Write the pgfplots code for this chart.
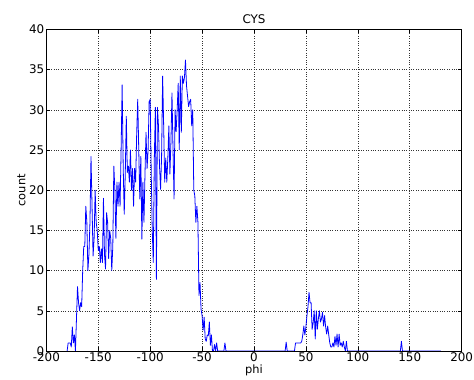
\documentclass[border=0pt]{standalone}
\usepackage{pgfplots}
\pgfplotsset{compat=1.18}
\usepackage{fontspec}
\setmainfont{DejaVu Sans}
\begin{document}
\begin{tikzpicture}[font=\fontsize{12}{14}\selectfont]
\begin{axis}[
  scale only axis,
  width=416.5bp, height=322.5bp,
  xmin=-200, xmax=200, ymin=0, ymax=40,
  xtick={-200,-150,...,200}, ytick={0,5,...,40},
  tick align=inside, ticks=major,
  major tick length=4bp,
  tick style={black, line width=0.5pt},
  grid=major,
  grid style={black!80, dotted, line width=0.5pt},
  axis line style={black, line width=0.8pt},
  /pgf/number format/assume math mode=true,
  tick label style={font=\fontsize{12}{14}\selectfont},
  xticklabel style={yshift=-1bp, inner sep=1bp},
  yticklabel style={inner sep=1bp, xshift=-1bp},
  label style={font=\fontsize{11.5}{13}\selectfont},
  title={CYS}, title style={font=\fontsize{12}{14}\selectfont, yshift=-4bp},
  xlabel={phi}, ylabel={count},
  xlabel style={yshift=2bp}, ylabel style={yshift=-1bp},
  every axis plot/.append style={line join=round},
]
\addplot[blue, line width=0.8pt, mark=none] coordinates {
(-180,0) (-179,1) (-178,1) (-177,1) (-176,0.5) (-175,3) (-174,1) (-173,2) (-172,0)
(-171,4) (-170,8) (-169,6) (-168,5) (-167,6) (-166,5.5) (-165,10) (-164,13) (-163,13)
(-162,18) (-161,16) (-160,10) (-159,12) (-158,16) (-157,24.2) (-156,18) (-155,11.8)
(-154,14) (-153,20) (-152,16) (-151,15) (-150,12.5) (-149,13) (-148,11) (-147,12.7)
(-146,11) (-145,19) (-144,12) (-143,10.2) (-142,17.2) (-141,16) (-140,11.5) (-139,15)
(-138,14) (-137,10) (-136,13) (-135,23) (-134,20) (-133,14) (-132,21) (-131,18)
(-130,21) (-129,18) (-128,25) (-127,33.1) (-126,23) (-125,17) (-124,22) (-123,29.2)
(-122,22.2) (-121,23) (-120,21) (-119,25) (-118,20) (-117,22.7) (-116,18) (-115,22.7)
(-114,21) (-113,27) (-112,31.3) (-111,25) (-110,18.9) (-109,24.2) (-108,13.9) (-107,21)
(-106,16) (-105,22) (-104,27.2) (-103,22.7) (-102,25) (-101,31) (-100,31.3) (-99,22.2)
(-98,15) (-97,11) (-96,24) (-95,30.3) (-94,8.9) (-93,30.3) (-92,28) (-91,23) (-90,20.1)
(-89,24.2) (-88,34.2) (-87,28) (-86,21) (-85,24) (-84,21) (-83,24) (-82,28) (-81,22)
(-80,26) (-79,32.1) (-78,25) (-77,18.9) (-76,30) (-75,27.3) (-74,30) (-73,33.3) (-72,25)
(-71,34.2) (-70,27.2) (-69,34.2) (-68,33.3) (-67,34) (-66,36.2) (-65,33) (-64,31.7)
(-63,30.4) (-62,31) (-61,31.3) (-60,28) (-59,30) (-58,20) (-57,19.3) (-56,16) (-55,18)
(-54,16) (-53,6.9) (-52,8.5) (-51,5.2) (-50,4.4) (-49,2.6) (-48,4.2) (-47,1.5) (-46,1.2)
(-45,2) (-44,1.9) (-43,3.6) (-42,0.7) (-41,2) (-40,0) (-39,0) (-38,0.8) (-37,0) (-36,1)
(-35,0) (-29,0) (-28,1) (-27,0) (30,0) (31,1.1) (32,0) (39,0) (40,1) (41,1) (42,1)
(43,1) (44,1) (45,1) (46,1.2) (47,2) (48,3.1) (49,2) (50,3) (51,4.4) (52,5.5) (53,7.3)
(54,6) (55,6) (56,2.7) (57,3.5) (58,5) (59,1.5) (60,5) (61,2.7) (62,4) (63,5) (64,3.6)
(65,4) (66,4.8) (67,3.1) (68,4.4) (69,3) (70,2.1) (71,3.1) (72,2) (73,1) (74,0.5)
(75,0.5) (76,1) (77,0.5) (78,1.8) (79,0.7) (80,2.1) (81,0.5) (82,2.1) (83,0.7) (84,1)
(85,0.5) (86,1.2) (87,0.5) (88,0) (89,1.2) (90,0) (141,0) (142,1.2) (143,0) (180,0)
};
\end{axis}
\useasboundingbox ([shift={(-46.5bp,-27bp)}]current axis.south west) rectangle ([shift={(11bp,29.5bp)}]current axis.north east);
\end{tikzpicture}
\end{document}
